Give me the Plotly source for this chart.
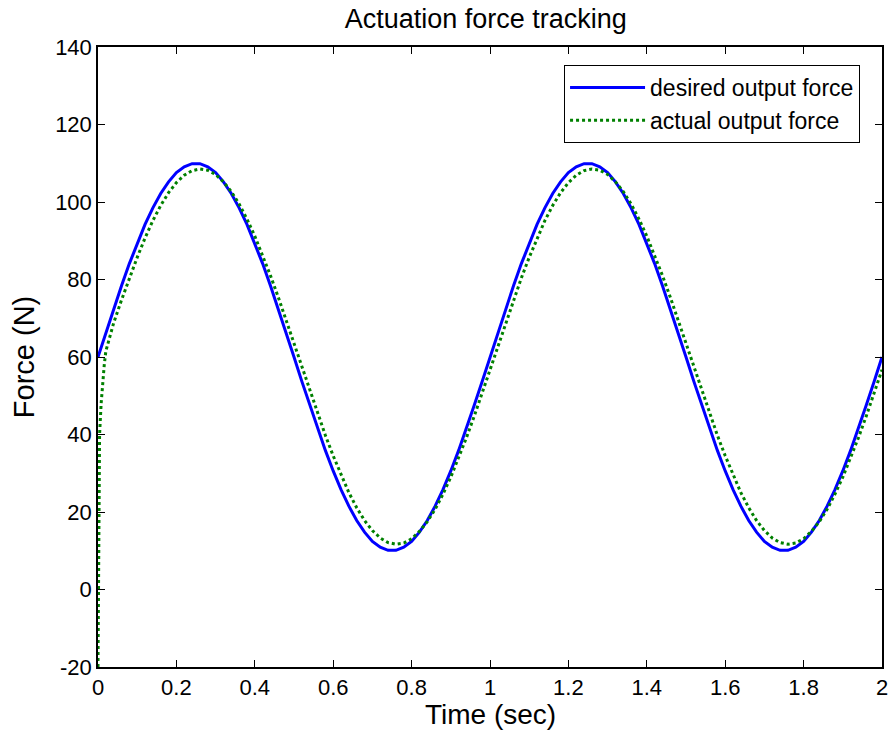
import numpy as np
import plotly.graph_objects as go

# Sample times (s) for the reference force signal
desired_time = np.round(np.arange(0, 101) * 0.02, 3)

# Desired output force (N)
desired_force = [
    60.0, 66.3, 72.4, 78.4, 84.1, 89.4, 94.2, 98.5, 102.2, 105.2,
    107.6, 109.1, 109.9, 109.9, 109.1, 107.6, 105.2, 102.2, 98.5, 94.2,
    89.4, 84.1, 78.4, 72.4, 66.3, 60.0, 53.7, 47.6, 41.6, 35.9,
    30.6, 25.8, 21.5, 17.8, 14.8, 12.4, 10.9, 10.1, 10.1, 10.9,
    12.4, 14.8, 17.8, 21.5, 25.8, 30.6, 35.9, 41.6, 47.6, 53.7,
    60.0, 66.3, 72.4, 78.4, 84.1, 89.4, 94.2, 98.5, 102.2, 105.2,
    107.6, 109.1, 109.9, 109.9, 109.1, 107.6, 105.2, 102.2, 98.5, 94.2,
    89.4, 84.1, 78.4, 72.4, 66.3, 60.0, 53.7, 47.6, 41.6, 35.9,
    30.6, 25.8, 21.5, 17.8, 14.8, 12.4, 10.9, 10.1, 10.1, 10.9,
    12.4, 14.8, 17.8, 21.5, 25.8, 30.6, 35.9, 41.6, 47.6, 53.7,
    60.0,
]

# Actual output force: fast start-up transient, then the tracked response
actual_time = [0.0, 0.004, 0.008, 0.012, 0.016, 0.02] + list(np.round(np.arange(2, 101) * 0.02, 3))
actual_force = [
    -20.0, 40.0, 48.0, 54.0, 58.0, 61.5,
    68.8, 74.7, 80.4, 85.7, 90.7, 95.2, 99.1, 102.4, 105.0, 106.9,
    108.1, 108.5, 108.2, 107.1, 105.2, 102.7, 99.5, 95.6, 91.2, 86.3,
    81.0, 75.4, 69.5, 63.5, 57.4, 51.4, 45.5, 39.8, 34.5, 29.5,
    25.0, 21.1, 17.8, 15.2, 13.3, 12.1, 11.7, 12.0, 13.1, 15.0,
    17.5, 20.7, 24.6, 29.0, 33.9, 39.2, 44.8, 50.7, 56.7,
    62.8, 68.8, 74.7, 80.4, 85.7, 90.7, 95.2, 99.1, 102.4, 105.0, 106.9,
    108.1, 108.5, 108.2, 107.1, 105.2, 102.7, 99.5, 95.6, 91.2, 86.3,
    81.0, 75.4, 69.5, 63.5, 57.4, 51.4, 45.5, 39.8, 34.5, 29.5,
    25.0, 21.1, 17.8, 15.2, 13.3, 12.1, 11.7, 12.0, 13.1, 15.0,
    17.5, 20.7, 24.6, 29.0, 33.9, 39.2, 44.8, 50.7, 56.7,
]

x_ticks = [0, 0.2, 0.4, 0.6, 0.8, 1, 1.2, 1.4, 1.6, 1.8, 2]
x_tick_labels = ["0", "0.2", "0.4", "0.6", "0.8", "1", "1.2", "1.4", "1.6", "1.8", "2"]
y_ticks = [-20, 0, 20, 40, 60, 80, 100, 120, 140]
y_tick_labels = ["-20", "0", "20", "40", "60", "80", "100", "120", "140"]

FONT = "Liberation Sans, Arial, sans-serif"

fig = go.Figure()
fig.add_trace(go.Scatter(
    x=desired_time, y=desired_force, mode="lines",
    name="desired output force",
    line=dict(color="#0000FF", width=3),
))
fig.add_trace(go.Scatter(
    x=actual_time, y=actual_force, mode="lines",
    name="actual output force",
    line=dict(color="#008000", width=3, dash="dot"),
))

axis_common = dict(
    showline=True, linecolor="black", linewidth=1.5, mirror="ticks",
    ticks="inside", ticklen=7, tickwidth=1, tickcolor="black",
    showgrid=False, zeroline=False, automargin=False,
    tickfont=dict(family=FONT, size=22, color="black"),
)

fig.update_layout(
    width=893, height=742,
    margin=dict(l=98, r=11, t=47, b=75),
    paper_bgcolor="white", plot_bgcolor="white",
    title=dict(text="Actuation force tracking", x=0.544, xanchor="center",
               y=0.975, yanchor="middle",
               font=dict(family=FONT, size=27, color="black")),
    xaxis=dict(range=[0, 2], tickvals=x_ticks, ticktext=x_tick_labels,
               **axis_common),
    yaxis=dict(range=[-20, 140], tickvals=y_ticks, ticktext=y_tick_labels,
               title=dict(text="Force (N)", standoff=12,
                          font=dict(family=FONT, size=29, color="black")),
               **axis_common),
    legend=dict(x=0.972, xanchor="right", y=0.971, yanchor="top",
                bgcolor="white", bordercolor="black", borderwidth=1,
                font=dict(family=FONT, size=23, color="black"),
                itemwidth=75, tracegroupgap=0),
    showlegend=True,
)

# x-axis label placed just under the tick labels
fig.add_annotation(
    text="Time (sec)", xref="paper", yref="paper", x=0.5, y=-0.077,
    xanchor="center", yanchor="middle", showarrow=False,
    font=dict(family=FONT, size=28, color="black"),
)

fig.write_html("out.html")
